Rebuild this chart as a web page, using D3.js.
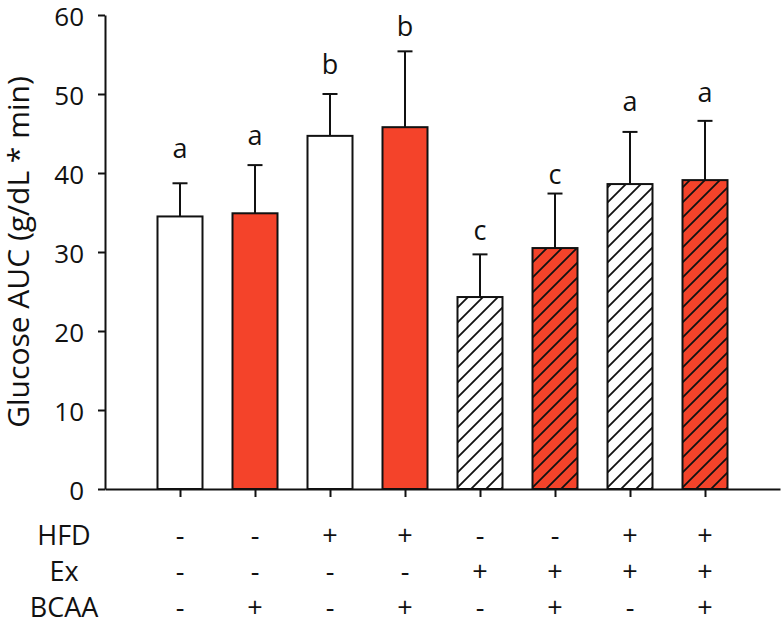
<!DOCTYPE html>
<html>
<head>
<meta charset="utf-8">
<script src="https://cdn.jsdelivr.net/npm/d3@7"></script>
<style>
    body { margin: 0; background: #fff; }
    svg { display: block; font-family: "Open Sans", sans-serif; }
</style>
</head>
<body>
<svg id="chart" width="783" height="626"></svg>
<script>
"use strict";

// one entry per bar, left to right
const groups = [1, 2, 3, 4, 5, 6, 7, 8];
const auc = [34.5, 34.9, 44.7, 45.8, 24.3, 30.5, 38.6, 39.1];
const aucErr = [4.2, 6.1, 5.3, 9.6, 5.4, 6.9, 6.6, 7.5];
const letters = ["a", "a", "b", "b", "c", "c", "a", "a"];
const letterAt = [41.9, 43.5, 52.5, 57.3, 31.5, 38.6, 47.8, 49.0];

// treatment table under the axis
const rowNames = ["HFD", "Ex", "BCAA"];
const hfd = ["-", "-", "+", "+", "-", "-", "+", "+"];
const ex = ["-", "-", "-", "-", "+", "+", "+", "+"];
const bcaa = ["-", "+", "-", "+", "-", "+", "-", "+"];

const yTicks = [0, 10, 20, 30, 40, 50, 60];

(function () {
    const red = "#f4432a";
    const ink = "#111";

    const svg = d3.select("#chart");

    const x = d3.scaleLinear().domain([0, 9]).range([105, 780]);
    const y = d3.scaleLinear().domain([0, 60]).range([489, 15]);
    const barW = 45;

    // hatch patterns for the exercise groups
    const defs = svg.append("defs");
    [["hatch-white", "#fff"], ["hatch-red", red]].forEach(([id, bg]) => {
        const p = defs.append("pattern")
            .attr("id", id)
            .attr("patternUnits", "userSpaceOnUse")
            .attr("width", 15)
            .attr("height", 15);
        p.append("rect").attr("width", 15).attr("height", 15).attr("fill", bg);
        p.append("path")
            .attr("d", "M-2,2L2,-2M0,15L15,0M13,17L17,13")
            .attr("stroke", ink)
            .attr("stroke-width", 1.8);
    });

    const rows = groups.map((g, i) => ({
        g: g,
        mean: auc[i],
        err: aucErr[i],
        letter: letters[i],
        letterAt: letterAt[i],
        ex: ex[i] === "+",
        bcaa: bcaa[i] === "+"
    }));

    const fillFor = d => d.ex
        ? (d.bcaa ? "url(#hatch-red)" : "url(#hatch-white)")
        : (d.bcaa ? red : "#fff");

    // error bars (upper only)
    const eb = svg.append("g").attr("stroke", ink).attr("stroke-width", 2);
    eb.selectAll("line.stem")
        .data(rows)
        .enter()
        .append("line")
        .attr("class", "stem")
        .attr("x1", d => x(d.g))
        .attr("x2", d => x(d.g))
        .attr("y1", d => y(d.mean))
        .attr("y2", d => y(d.mean + d.err));
    eb.selectAll("line.cap")
        .data(rows)
        .enter()
        .append("line")
        .attr("class", "cap")
        .attr("x1", d => x(d.g) - 7.5)
        .attr("x2", d => x(d.g) + 7.5)
        .attr("y1", d => y(d.mean + d.err))
        .attr("y2", d => y(d.mean + d.err));

    // bars
    svg.append("g")
        .selectAll("rect")
        .data(rows)
        .enter()
        .append("rect")
        .attr("x", d => x(d.g) - barW / 2)
        .attr("width", barW)
        .attr("y", d => y(d.mean))
        .attr("height", d => y(0) - y(d.mean))
        .attr("fill", fillFor)
        .attr("stroke", ink)
        .attr("stroke-width", 2);

    // significance letters
    svg.append("g")
        .selectAll("text")
        .data(rows)
        .enter()
        .append("text")
        .attr("x", d => x(d.g))
        .attr("y", d => y(d.letterAt))
        .attr("text-anchor", "middle")
        .style("font-size", "27px")
        .attr("fill", ink)
        .text(d => d.letter);

    // y axis
    const yAxis = svg.append("g")
        .attr("transform", `translate(${x(0)},0)`)
        .call(d3.axisLeft(y).tickValues(yTicks).tickSize(7).tickSizeOuter(0).tickPadding(14));
    yAxis.selectAll("path, line").attr("stroke", ink).attr("stroke-width", 2);
    yAxis.selectAll("text")
        .attr("dy", "0.4em")
        .style("font-size", "26px")
        .style("font-family", "'Open Sans', sans-serif")
        .attr("fill", ink);

    // x axis
    const xAxis = svg.append("g")
        .attr("transform", `translate(0,${y(0)})`)
        .call(d3.axisBottom(x).tickValues(groups).tickSize(8).tickSizeOuter(0).tickFormat(""));
    xAxis.selectAll("path, line").attr("stroke", ink).attr("stroke-width", 2);

    // axis title
    svg.append("text")
        .attr("transform", `translate(29,${(y(0) + y(60)) / 2}) rotate(-90)`)
        .attr("text-anchor", "middle")
        .style("font-size", "30px")
        .attr("fill", ink)
        .text("Glucose AUC (g/dL * min)");

    // treatment table
    const table = [hfd, ex, bcaa];
    const rowY = [545, 581, 617];
    table.forEach((signs, r) => {
        const g = svg.append("g")
            .style("font-size", "27px")
            .attr("fill", ink)
            .attr("text-anchor", "middle");
        g.append("text")
            .attr("x", 64)
            .attr("y", rowY[r])
            .text(rowNames[r]);
        g.selectAll("text.sign")
            .data(signs)
            .enter()
            .append("text")
            .attr("class", "sign")
            .attr("x", (s, i) => x(groups[i]))
            .attr("y", rowY[r])
            .text(s => s);
    });
})();
</script>
</body>
</html>
